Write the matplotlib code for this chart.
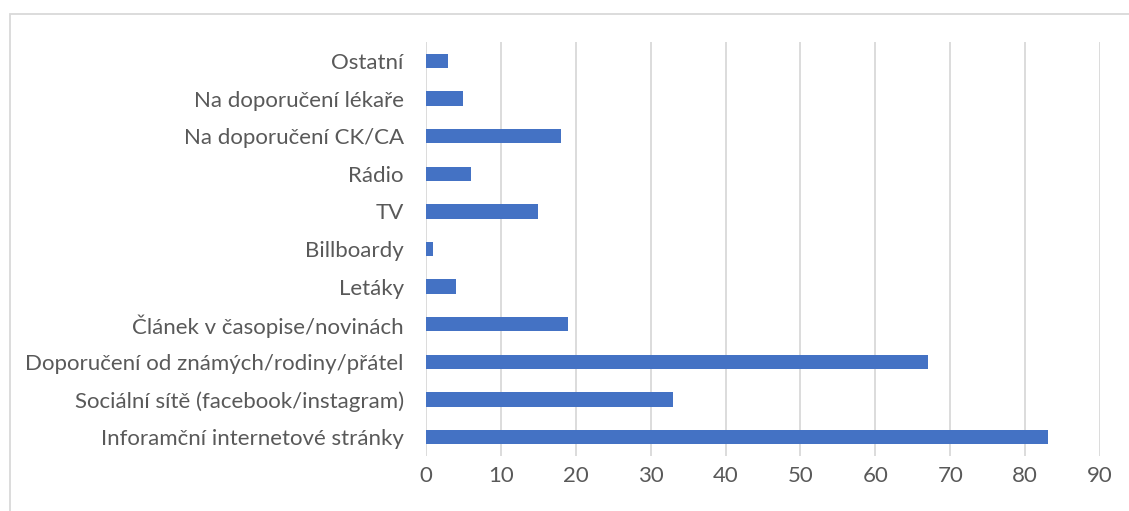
import matplotlib.pyplot as plt
from matplotlib.patches import Rectangle

# Odkud se respondenti dozvěděli o nabídce
kategorie = ['Ostatní', 'Na doporučení lékaře', 'Na doporučení CK/CA', 'Rádio', 'TV',
             'Billboardy', 'Letáky', 'Článek v časopise/novinách',
             'Doporučení od známých/rodiny/přátel', 'Sociální sítě (facebook/instagram)',
             'Inforamční internetové stránky']
pocty = [3, 5, 18, 6, 15, 1, 4, 19, 67, 33, 83]
osa_x = [0, 10, 20, 30, 40, 50, 60, 70, 80, 90]

plt.rcParams['font.family'] = ['Lato', 'DejaVu Sans']
sedy_text = '#595959'

fig = plt.figure(figsize=(11.29, 5.11), dpi=100)
ax = fig.add_axes([0.3773, 0.108, 0.597, 0.8094])

y = list(range(len(kategorie)))
ax.barh(y, pocty, height=0.38, color='#4472C4', zorder=3)
ax.set_ylim(len(kategorie) - 0.5, -0.5)
ax.set_xlim(0, 90)
ax.set_yticks(y)
ax.set_yticklabels(kategorie)
ax.set_xticks(osa_x)
ax.tick_params(axis='y', length=0, pad=16, labelsize=16, labelcolor=sedy_text)
ax.tick_params(axis='x', length=0, pad=7, labelsize=16, labelcolor=sedy_text)
ax.grid(axis='x', color='#d9d9d9', linewidth=1.3, zorder=0)
for s in ax.spines.values():
    s.set_visible(False)

# rámeček grafu
fig.patches.append(Rectangle((10 / 1129, -0.1), 1.2, 1 - 14 / 511 + 0.1,
                             transform=fig.transFigure, fill=False,
                             edgecolor='#d9d9d9', linewidth=1.3))

fig.savefig('out.png', dpi=100)
